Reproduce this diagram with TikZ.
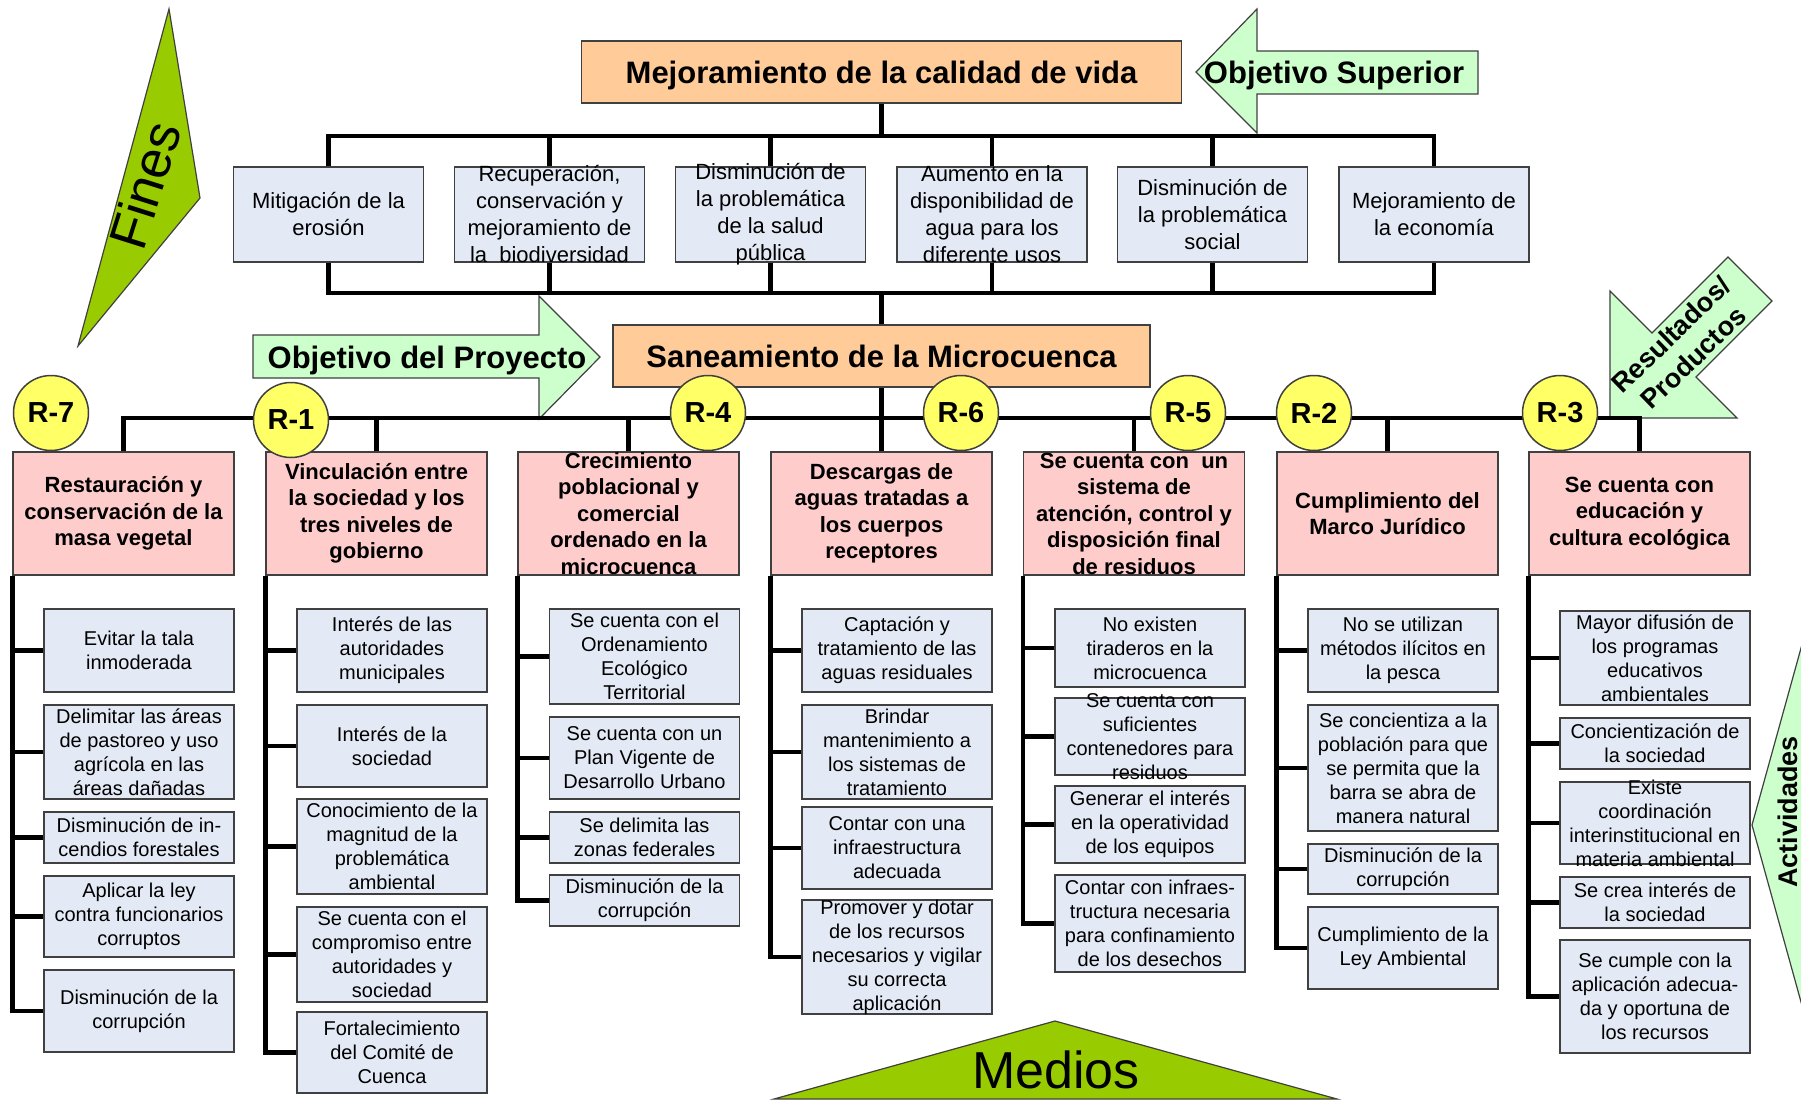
\documentclass[tikz,border=0pt]{standalone}
\usepackage{fontspec}
\setmainfont{Liberation Sans}
\usepackage{tikz}
\usetikzlibrary{calc}

\definecolor{naranja}{HTML}{FFCC99}
\definecolor{rosa}{HTML}{FFCCCC}
\definecolor{azul}{HTML}{E4EAF5}
\definecolor{amarillo}{HTML}{FFFF66}
\definecolor{verdeclaro}{HTML}{CCFFCC}
\definecolor{verde}{HTML}{99CC00}
\definecolor{gris}{HTML}{404040}

\newcommand{\caja}[3]{\parbox[c][#2pt][c]{#1pt}{\centering #3}}

\begin{document}
\begin{tikzpicture}[x = 1pt, y = -1pt,
  borde/.style = {draw = gris, line width = 1.5},
  grande/.style = {text height = 22.5pt, text depth = 0pt, font = \bfseries\fontsize{31}{31}\selectfont},
  titulo/.style = {borde, grande, fill = naranja, inner sep = 0pt},
  fin/.style = {borde, fill = azul, inner sep = 0pt, minimum width = 190, font = \fontsize{22}{27}\selectfont},
  resultado/.style = {borde, fill = rosa, inner sep = 0pt, minimum width = 221, font = \bfseries\fontsize{22}{26.5}\selectfont},
  actividad/.style = {borde, fill = azul, inner sep = 0pt, minimum width = 190, font = \fontsize{20}{24}\selectfont},
  erre/.style = {circle, draw = gris, line width = 1.5, fill = amarillo, minimum size = 75, inner sep = 0pt, font = \bfseries\fontsize{29}{29}\selectfont},
  linea/.style = {line width = 4.5, black},
  flecha/.style = {draw = gris, line width = 1.2, fill = verdeclaro},
  cuna/.style = {draw = gris, line width = 1.2, fill = verde}]
\useasboundingbox (0,0) rectangle (1801,1102);
\fill [white] (0,0) rectangle (1801,1102);

\draw [cuna] (169,9) -- (200,198) -- (78,346) -- cycle;
\node [rotate = 72.5, font = \fontsize{53}{53}\selectfont] (fines) at (145,185) {Fines};
\draw [cuna] (774,1099) -- (1055,1021) -- (1337,1099) -- cycle;
\node [anchor = base, font = \fontsize{52}{52}\selectfont] (medios) at (1056,1088) {Medios};

\draw [flecha] (1478,51) -- (1257,51) -- (1257,9) -- (1196,72) -- (1257,133) -- (1257,94) -- (1478,94) -- cycle;
\node [grande] (objsup) at (1334,72) {Objetivo Superior};
\draw [flecha] (253,335) -- (539,335) -- (539,296) -- (600,357) -- (539,419) -- (539,378) -- (253,378) -- cycle;
\node [grande] (objpro) at (427,357) {Objetivo del Proyecto};
\draw [flecha] (1610,418) -- (1610,291) -- (1652,333) -- (1728,257) -- (1772,301) -- (1696,377) -- (1737,418) -- cycle;
\node [rotate = 44, align = center, font = \bfseries\fontsize{27}{32}\selectfont] (resprod) at (1682,346) {Resultados/\\Productos};
\draw [flecha] (1752,825) -- (1806,630) -- (1806,1020) -- cycle;
\node [rotate = 90, font = \bfseries\fontsize{27}{27}\selectfont] (activ) at (1788,812) {Actividades};

\node [titulo, minimum width = 600, minimum height = 62] (mejora) at (881.5,72) {Mejoramiento de la calidad de vida};
\node [titulo, minimum width = 537, minimum height = 62] (sanea) at (881.5,356) {Saneamiento de la Microcuenca};

\node [fin] (f1) at (328.5,214.5) {\caja{186}{95}{Mitigación de la\\erosión}};
\node [fin] (f2) at (549.5,214.5) {\caja{186}{95}{Recuperación,\\conservación y\\mejoramiento de\\la~ biodiversidad}};
\node [fin] (f3) at (770.5,214.5) {\caja{186}{95}{Disminución de\\la problemática\\de la salud\\pública}};
\node [fin] (f4) at (992,214.5) {\caja{186}{95}{Aumento en la\\disponibilidad de\\agua para los\\diferente usos}};
\node [fin] (f5) at (1212.5,214.5) {\caja{186}{95}{Disminución de\\la problemática\\social}};
\node [fin] (f6) at (1434,214.5) {\caja{186}{95}{Mejoramiento de\\la economía}};

\node [resultado] (res7) at (123.5,513.5) {\caja{215}{123}{Restauración y\\conservación de la\\masa vegetal}};
\node [resultado] (res1) at (376.5,513.5) {\caja{215}{123}{Vinculación entre\\la sociedad y los\\tres niveles de\\gobierno}};
\node [resultado] (res4) at (628.5,513.5) {\caja{215}{123}{Crecimiento\\poblacional y\\comercial\\ordenado en la\\microcuenca}};
\node [resultado] (res6) at (881.5,513.5) {\caja{215}{123}{Descargas de\\aguas tratadas a\\los cuerpos\\receptores}};
\node [resultado] (res5) at (1134,513.5) {\caja{215}{123}{Se cuenta con~ un\\sistema de\\atención, control y\\disposición final\\de residuos}};
\node [resultado] (res2) at (1387.5,513.5) {\caja{215}{123}{Cumplimiento del\\Marco Jurídico}};
\node [resultado] (res3) at (1639.5,513.5) {\caja{215}{123}{Se cuenta con\\educación y\\cultura ecológica}};

\node [actividad] (a71) at (139,650.5) {\caja{184}{83}{Evitar la tala\\inmoderada}};
\node [actividad] (a72) at (139,752) {\caja{184}{94}{Delimitar las áreas\\de pastoreo y uso\\agrícola en las\\áreas dañadas}};
\node [actividad] (a73) at (139,837.5) {\caja{184}{51}{Disminución de in-\\cendios forestales}};
\node [actividad] (a74) at (139,916.5) {\caja{184}{81}{Aplicar la ley\\contra funcionarios\\corruptos}};
\node [actividad] (a75) at (139,1011) {\caja{184}{82}{Disminución de la\\corrupción}};

\node [actividad] (a11) at (392,650.5) {\caja{184}{83}{Interés de las\\autoridades\\municipales}};
\node [actividad] (a12) at (392,746) {\caja{184}{82}{Interés de la\\sociedad}};
\node [actividad] (a13) at (392,846.5) {\caja{184}{95}{Conocimiento de la\\magnitud de la\\problemática\\ambiental}};
\node [actividad] (a14) at (392,954.5) {\caja{184}{95}{Se cuenta con el\\compromiso entre\\autoridades y\\sociedad}};
\node [actividad] (a15) at (392,1052.5) {\caja{184}{81}{Fortalecimiento\\del Comité de\\Cuenca}};

\node [actividad] (a41) at (644.5,656.5) {\caja{184}{95}{Se cuenta con el\\Ordenamiento\\Ecológico\\Territorial}};
\node [actividad] (a42) at (644.5,758) {\caja{184}{82}{Se cuenta con un\\Plan Vigente de\\Desarrollo Urbano}};
\node [actividad] (a43) at (644.5,837.5) {\caja{184}{51}{Se delimita las\\zonas federales}};
\node [actividad] (a44) at (644.5,900.5) {\caja{184}{51}{Disminución de la\\corrupción}};

\node [actividad] (a61) at (897,650.5) {\caja{184}{83}{Captación y\\tratamiento de las\\aguas residuales}};
\node [actividad] (a62) at (897,752) {\caja{184}{94}{Brindar\\mantenimiento a\\los sistemas de\\tratamiento}};
\node [actividad] (a63) at (897,848) {\caja{184}{82}{Contar con una\\infraestructura\\adecuada}};
\node [actividad] (a64) at (897,957) {\caja{184}{114}{Promover y dotar\\de los recursos\\necesarios y vigilar\\su correcta\\aplicación}};

\node [actividad] (a51) at (1150,648) {\caja{184}{78}{No existen\\tiraderos en la\\microcuenca}};
\node [actividad] (a52) at (1150,736.5) {\caja{184}{77}{Se cuenta con\\suficientes\\contenedores para\\residuos}};
\node [actividad] (a53) at (1150,824.5) {\caja{184}{77}{Generar el interés\\en la operatividad\\de los equipos}};
\node [actividad] (a54) at (1150,923.5) {\caja{184}{97}{Contar con infraes-\\tructura necesaria\\para confinamiento\\de los desechos}};

\node [actividad] (a21) at (1403,650.5) {\caja{184}{83}{No se utilizan\\métodos ilícitos en\\la pesca}};
\node [actividad] (a22) at (1403,768) {\caja{184}{126}{Se concientiza a la\\población para que\\se permita que la\\barra se abra de\\manera natural}};
\node [actividad] (a23) at (1403,869) {\caja{184}{50}{Disminución de la\\corrupción}};
\node [actividad] (a24) at (1403,948) {\caja{184}{82}{Cumplimiento de la\\Ley Ambiental}};

\node [actividad] (a31) at (1655,658) {\caja{184}{94}{Mayor difusión de\\los programas\\educativos\\ambientales}};
\node [actividad] (a32) at (1655,743.5) {\caja{184}{51}{Concientización de\\la sociedad}};
\node [actividad] (a33) at (1655,823) {\caja{184}{82}{Existe\\coordinación\\interinstitucional en\\materia ambiental}};
\node [actividad] (a34) at (1655,902.5) {\caja{184}{51}{Se crea interés de\\la sociedad}};
\node [actividad] (a35) at (1655,996.5) {\caja{184}{113}{Se cumple con la\\aplicación adecua-\\da y oportuna de\\los recursos}};

\coordinate (bt) at (881.5,136);
\coordinate (bb) at (881.5,293);
\coordinate (br) at (881.5,418);
\draw [linea] (mejora.south) -- (bt);
\draw [linea] (f1.north) |- (bt) -| (f6.north);
\draw [linea] (f2.north) -- (f2.north |- bt);
\draw [linea] (f3.north) -- (f3.north |- bt);
\draw [linea] (f4.north) -- (f4.north |- bt);
\draw [linea] (f5.north) -- (f5.north |- bt);
\draw [linea] (f1.south) |- (bb) -| (f6.south);
\draw [linea] (f2.south) -- (f2.south |- bb);
\draw [linea] (f3.south) -- (f3.south |- bb);
\draw [linea] (f4.south) -- (f4.south |- bb);
\draw [linea] (f5.south) -- (f5.south |- bb);
\draw [linea] (bb) -- (sanea.north);
\draw [linea] (sanea.south) -- (res6.north);
\draw [linea] (res7.north) |- (br) -| (res3.north);
\draw [linea] (res1.north) -- (res1.north |- br);
\draw [linea] (res4.north) -- (res4.north |- br);
\draw [linea] (res5.north) -- (res5.north |- br);
\draw [linea] (res2.north) -- (res2.north |- br);

\draw [linea] (res7.south west) |- (a75.west);
\draw [linea] (a71.west) -- (a71.west -| res7.west);
\draw [linea] (a72.west) -- (a72.west -| res7.west);
\draw [linea] (a73.west) -- (a73.west -| res7.west);
\draw [linea] (a74.west) -- (a74.west -| res7.west);
\draw [linea] (res1.south west) |- (a15.west);
\draw [linea] (a11.west) -- (a11.west -| res1.west);
\draw [linea] (a12.west) -- (a12.west -| res1.west);
\draw [linea] (a13.west) -- (a13.west -| res1.west);
\draw [linea] (a14.west) -- (a14.west -| res1.west);
\draw [linea] (res4.south west) |- (a44.west);
\draw [linea] (a41.west) -- (a41.west -| res4.west);
\draw [linea] (a42.west) -- (a42.west -| res4.west);
\draw [linea] (a43.west) -- (a43.west -| res4.west);
\draw [linea] (res6.south west) |- (a64.west);
\draw [linea] (a61.west) -- (a61.west -| res6.west);
\draw [linea] (a62.west) -- (a62.west -| res6.west);
\draw [linea] (a63.west) -- (a63.west -| res6.west);
\draw [linea] (res5.south west) |- (a54.west);
\draw [linea] (a51.west) -- (a51.west -| res5.west);
\draw [linea] (a52.west) -- (a52.west -| res5.west);
\draw [linea] (a53.west) -- (a53.west -| res5.west);
\draw [linea] (res2.south west) |- (a24.west);
\draw [linea] (a21.west) -- (a21.west -| res2.west);
\draw [linea] (a22.west) -- (a22.west -| res2.west);
\draw [linea] (a23.west) -- (a23.west -| res2.west);
\draw [linea] (res3.south west) |- (a35.west);
\draw [linea] (a31.west) -- (a31.west -| res3.west);
\draw [linea] (a32.west) -- (a32.west -| res3.west);
\draw [linea] (a33.west) -- (a33.west -| res3.west);
\draw [linea] (a34.west) -- (a34.west -| res3.west);

\node [erre] (r7) at (51,413) {R-7};
\node [erre] (r1) at (291,420) {R-1};
\node [erre] (r4) at (708,413) {R-4};
\node [erre] (r6) at (961,413) {R-6};
\node [erre] (r5) at (1188,413) {R-5};
\node [erre] (r2) at (1314,413) {R-2};
\node [erre] (r3) at (1560,413) {R-3};
\end{tikzpicture}
\end{document}
